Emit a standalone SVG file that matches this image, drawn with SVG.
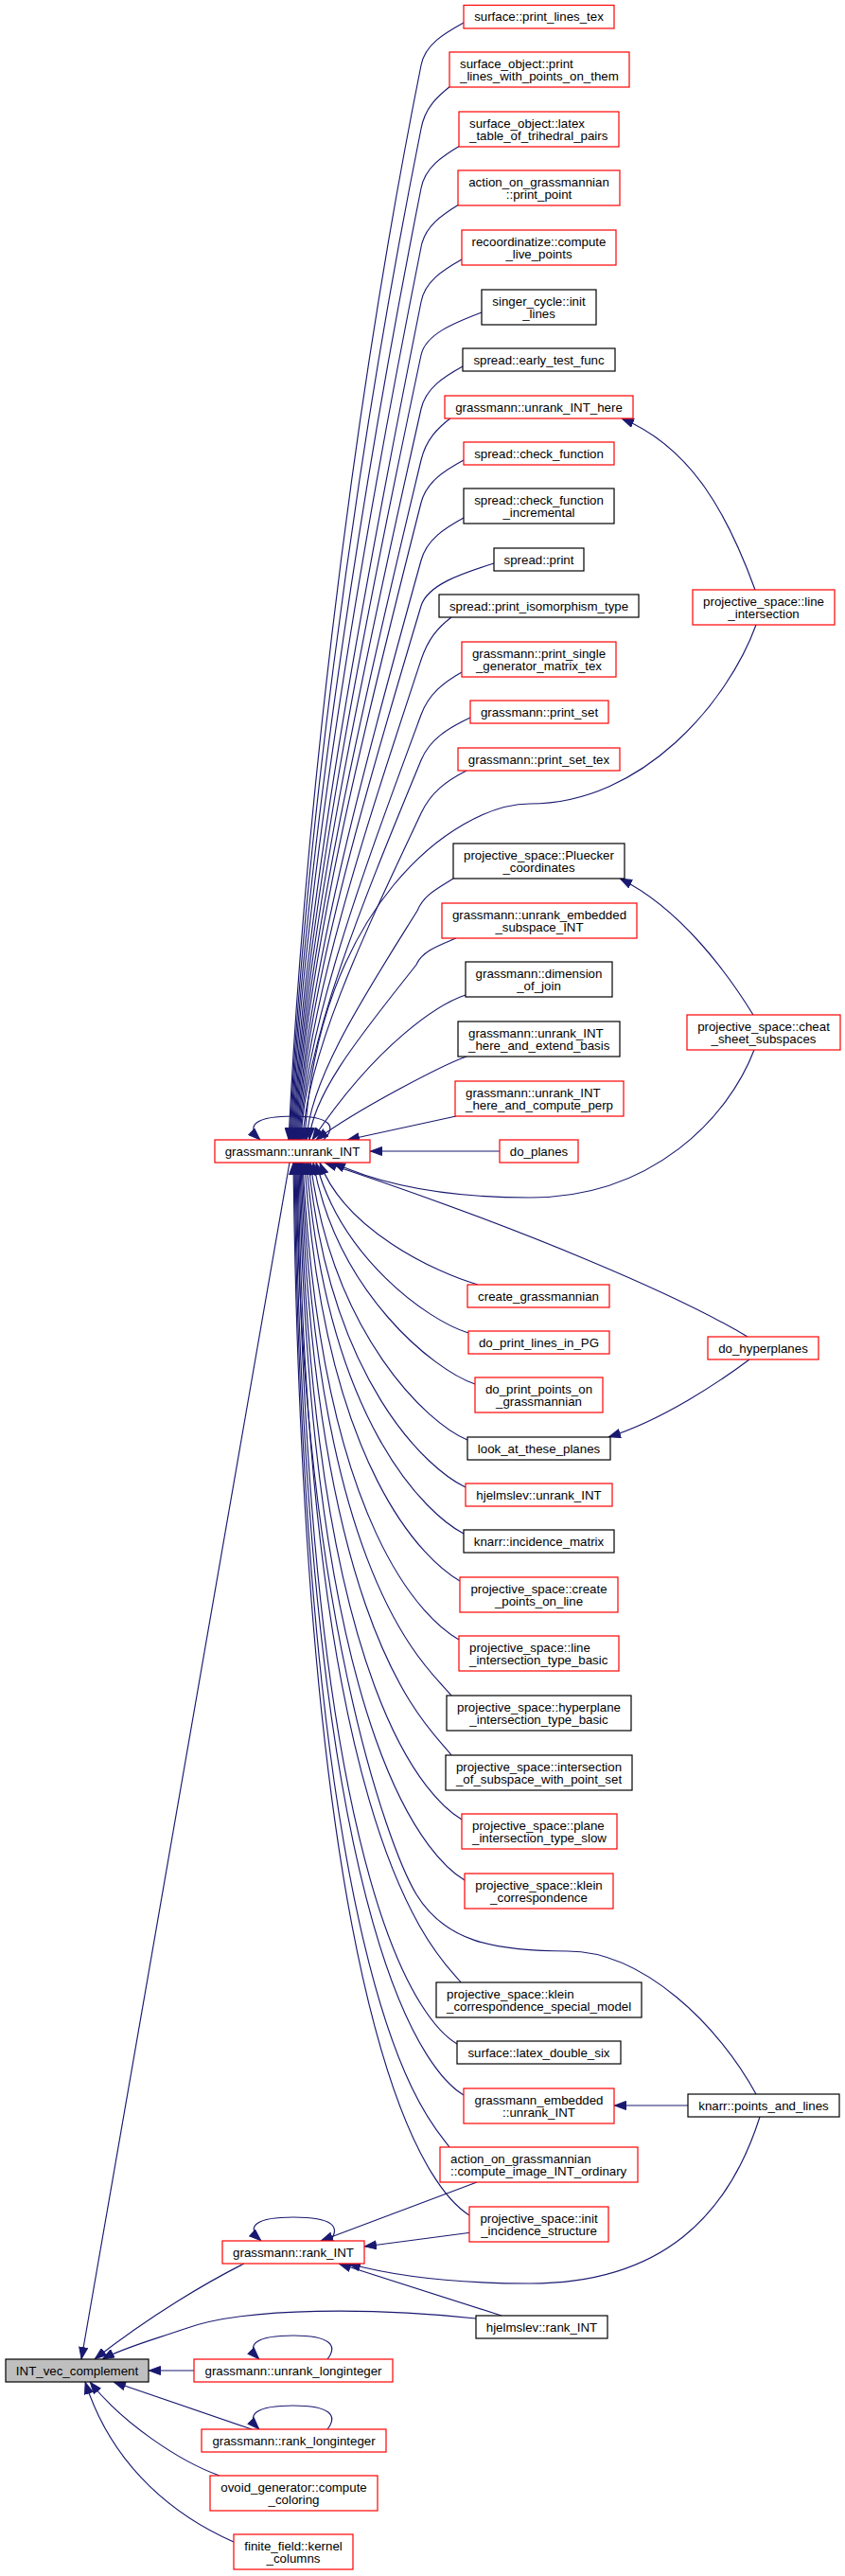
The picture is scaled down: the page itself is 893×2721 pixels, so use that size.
<svg xmlns="http://www.w3.org/2000/svg" width="893" height="2721" viewBox="0 0 893 2721">
<defs>
<marker id="ah" viewBox="0 0 13 10" refX="13" refY="5" markerWidth="13" markerHeight="10" markerUnits="userSpaceOnUse" orient="auto"><path d="M0.5,0.5 L12.5,5 L0.5,9.5 z" fill="#191970" stroke="#191970" stroke-width="1"/></marker>
</defs>
<style>
rect{fill:#fff;stroke-width:1.2}
.r rect{stroke:#ff0000}
.k rect{stroke:#000}
.g rect{fill:#bfbfbf;stroke:#000}
text{font-family:"Liberation Sans",Arial,Helvetica,sans-serif;font-size:13.3px;fill:#000}
.c{text-anchor:middle}
#edges path{fill:none;stroke:#191970;stroke-width:1.15;marker-end:url(#ah)}
</style>
<rect x="0" y="0" width="893" height="2721" style="fill:#fff;stroke:none"/>
<g id="edges">
<path d="M490,24 C470,35 449,47 445,69 C365.5,466 319.8,898 305,1204"/>
<path d="M476,91 C462,102 449,114 445,136 C370,510 320,916 306,1204"/>
<path d="M486,154 C467.5,165 449,177 445,199 C375,551 320,933 307,1204"/>
<path d="M485,216 C467,227 449,239 445,261 C379,591 320,949 308,1204"/>
<path d="M488,274 C468.6,285 449,297 445,319 C383,629 320.5,965 309,1204"/>
<path d="M509,330 C480,341 449.7,353 445,375 C383.5,665 321,980 310,1204"/>
<path d="M489,387 C469,398 450,410 445,432 C384,702 321,996 311,1204"/>
<path d="M477,441 C462.6,452 450.3,464 445,486 C384.5,737 321.3,1010 312,1204"/>
<path d="M490,486 C469.7,497 450.6,509 445,531 C385,766.5 321.7,1022 313,1204"/>
<path d="M490,547 C469.7,558 451,570 445,592 C385.4,806 322,1039 314,1204"/>
<path d="M522,595 C487,606 451.6,618 445,640 C385.8,837 322.3,1052 315,1204"/>
<path d="M477,652 C462.6,663 452.3,675 445,697 C386.4,874.5 322.6,1067 316,1204"/>
<path d="M488,710 C468.6,721 453,733 445,755 C387,912 322.8,1083 317,1204"/>
<path d="M497,758 C473.6,769 454,781 445,803 C387.5,943 323.2,1096 318,1204"/>
<path d="M493,814 C471.4,825 455.3,837 445,859 C388,980 324.5,1111 320,1204"/>
<path d="M479,928 C462,939 448,945 441,962 C388,1047 327.3,1139 324,1204"/>
<path d="M482,991 C463,999 446,1005 440,1019 C389,1084 329.5,1154 327,1204"/>
<path d="M492,1051 C465,1060 400,1100 330,1204"/>
<path d="M493,1116 C470,1124 380,1170 334,1204"/>
<path d="M482,1179 L367,1204"/>
<path d="M798,623 C770,546 732,473 657,442"/>
<path d="M799,660 C770,740 680,849 560,849 C480,849 335,960 322,1204"/>
<path d="M796,1072 C770,1030 720,960 655,928"/>
<path d="M797,1109 C770,1180 690,1265 560,1265 C480,1265 410,1255 352,1228"/>
<path d="M790,1412 C720,1370 560,1300 343,1228"/>
<path d="M792,1436 C760,1460 700,1500 643,1518"/>
<path d="M727,2224 L649,2224"/>
<path d="M799,2212 C760,2140 680,2061 600,2061 C520,2061 470,2050 440,2001 C410,1951 318,1700 313,1228"/>
<path d="M803,2236 C770,2340 700,2412 560,2412 C480,2412 420,2405 368,2391"/>
<path d="M528,1216 L391,1216"/>
<path d="M505,1357 C460,1344 364,1299 338,1228"/>
<path d="M495,1408 C450,1394 360,1327 334,1228"/>
<path d="M502,1462 C458,1447 356,1365 331,1228"/>
<path d="M494,1521 C452,1504 352,1410 328,1228"/>
<path d="M492,1571 C452,1552 349,1460 326,1228"/>
<path d="M490,1620 C452,1600 346,1505 324,1228"/>
<path d="M486,1670 C451,1650 343,1555 322,1228"/>
<path d="M485,1732 C452,1713 340,1620 320,1228"/>
<path d="M477,1791 C457,1765 337,1680 319,1228"/>
<path d="M477,1854 C459,1828 334,1740 318,1228"/>
<path d="M488,1922 C458,1904 331,1800 317,1228"/>
<path d="M491,1986 C461,1968 329,1860 316,1228"/>
<path d="M487,2094 C467,2068 326,1960 315,1228"/>
<path d="M483,2159 C453,2141 325,2025 314,1228"/>
<path d="M490,2213 C460,2195 324,2075 312,1228"/>
<path d="M475,2268 C457,2242 323,2130 311,1228"/>
<path d="M496,2340 C466,2321 322,2200 310,1228"/>
<path d="M530,2446 L358,2391"/>
<path d="M503,2449 C400,2438 260,2436 195,2460 C160,2472 130,2480 108,2492"/>
<path d="M504,2305 L339,2367"/>
<path d="M499,2358 L385,2373"/>
<path d="M258,2391 C220,2410 160,2445 100,2492"/>
<path d="M306,1228 L86,2492"/>
<path d="M205,2504 L157,2504"/>
<path d="M266,2566 L120,2516"/>
<path d="M232,2615 C190,2600 130,2560 95,2516"/>
<path d="M247,2685 C190,2660 120,2610 90,2516"/>
<path d="M342,1204 C356,1190 350,1179 310,1179 C272,1179 258,1188 275,1204"/>
<path d="M349,2367 C360,2352 352,2342 310,2342 C272,2342 258,2351 276,2367"/>
<path d="M346,2492 C357,2478 350,2467 310,2467 C272,2467 258,2476 274,2492"/>
<path d="M346,2566 C357,2552 350,2541 310,2541 C272,2541 258,2550 274,2566"/>
</g>
<g id="n1" class="r"><rect x="490" y="5.5" width="159" height="24.5"/><text class="c" x="569.5" y="22.2">surface::print_lines_tex</text></g>
<g id="n2" class="r"><rect x="475" y="55" width="190" height="37"/><text x="486" y="71.5">surface_object::print</text><text x="486" y="84.8">_lines_with_points_on_them</text></g>
<g id="n3" class="r"><rect x="485" y="118" width="169" height="37"/><text x="496" y="134.5">surface_object::latex</text><text x="496" y="147.8">_table_of_trihedral_pairs</text></g>
<g id="n4" class="r"><rect x="484" y="180" width="171" height="37"/><text class="c" x="569.5" y="196.5">action_on_grassmannian</text><text class="c" x="569.5" y="209.8">::print_point</text></g>
<g id="n5" class="r"><rect x="488" y="243" width="163" height="37"/><text class="c" x="569.5" y="259.5">recoordinatize::compute</text><text class="c" x="569.5" y="272.8">_live_points</text></g>
<g id="n6" class="k"><rect x="509" y="306" width="121" height="37"/><text class="c" x="569.5" y="322.5">singer_cycle::init</text><text class="c" x="569.5" y="335.8">_lines</text></g>
<g id="n7" class="k"><rect x="489" y="368" width="161" height="24"/><text class="c" x="569.5" y="384.6">spread::early_test_func</text></g>
<g id="n8" class="r"><rect x="470" y="418" width="199" height="24"/><text class="c" x="569.5" y="434.6">grassmann::unrank_INT_here</text></g>
<g id="n9" class="r"><rect x="490" y="467" width="159" height="24"/><text class="c" x="569.5" y="483.6">spread::check_function</text></g>
<g id="n10" class="k"><rect x="490" y="516" width="159" height="37"/><text class="c" x="569.5" y="532.5">spread::check_function</text><text class="c" x="569.5" y="545.8">_incremental</text></g>
<g id="n11" class="k"><rect x="522" y="579" width="95" height="24"/><text class="c" x="569.5" y="595.6">spread::print</text></g>
<g id="n12" class="k"><rect x="464" y="628" width="211" height="24"/><text class="c" x="569.5" y="644.6">spread::print_isomorphism_type</text></g>
<g id="n13" class="r"><rect x="488" y="678" width="163" height="37"/><text class="c" x="569.5" y="694.5">grassmann::print_single</text><text class="c" x="569.5" y="707.8">_generator_matrix_tex</text></g>
<g id="n14" class="r"><rect x="497" y="740" width="146" height="24"/><text class="c" x="570" y="756.6">grassmann::print_set</text></g>
<g id="n15" class="r"><rect x="484" y="790" width="171" height="24"/><text class="c" x="569.5" y="806.6">grassmann::print_set_tex</text></g>
<g id="n16" class="k"><rect x="479" y="891" width="181" height="37"/><text class="c" x="569.5" y="907.5">projective_space::Pluecker</text><text class="c" x="569.5" y="920.8">_coordinates</text></g>
<g id="n17" class="r"><rect x="467" y="954" width="206" height="37"/><text class="c" x="570" y="970.5">grassmann::unrank_embedded</text><text class="c" x="570" y="983.8">_subspace_INT</text></g>
<g id="n18" class="k"><rect x="492" y="1016" width="155" height="37"/><text class="c" x="569.5" y="1032.5">grassmann::dimension</text><text class="c" x="569.5" y="1045.8">_of_join</text></g>
<g id="n19" class="k"><rect x="484" y="1079" width="171" height="37"/><text x="495" y="1095.5">grassmann::unrank_INT</text><text x="495" y="1108.8">_here_and_extend_basis</text></g>
<g id="n20" class="r"><rect x="481" y="1142" width="178" height="37"/><text x="492" y="1158.5">grassmann::unrank_INT</text><text x="492" y="1171.8">_here_and_compute_perp</text></g>
<g id="n21" class="r"><rect x="528" y="1204" width="83" height="24"/><text class="c" x="569.5" y="1220.6">do_planes</text></g>
<g id="n22" class="r"><rect x="494" y="1357" width="150" height="24"/><text class="c" x="569" y="1373.6">create_grassmannian</text></g>
<g id="n23" class="r"><rect x="495" y="1406" width="149" height="24"/><text class="c" x="569.5" y="1422.6">do_print_lines_in_PG</text></g>
<g id="n24" class="r"><rect x="502" y="1455" width="135" height="37"/><text class="c" x="569.5" y="1471.5">do_print_points_on</text><text class="c" x="569.5" y="1484.8">_grassmannian</text></g>
<g id="n25" class="k"><rect x="494" y="1518" width="151" height="24"/><text class="c" x="569.5" y="1534.6">look_at_these_planes</text></g>
<g id="n26" class="r"><rect x="492" y="1567" width="155" height="24"/><text class="c" x="569.5" y="1583.6">hjelmslev::unrank_INT</text></g>
<g id="n27" class="k"><rect x="490" y="1616" width="159" height="24"/><text class="c" x="569.5" y="1632.6">knarr::incidence_matrix</text></g>
<g id="n28" class="r"><rect x="486" y="1666" width="167" height="37"/><text class="c" x="569.5" y="1682.5">projective_space::create</text><text class="c" x="569.5" y="1695.8">_points_on_line</text></g>
<g id="n29" class="r"><rect x="485" y="1728" width="169" height="37"/><text x="496" y="1744.5">projective_space::line</text><text x="496" y="1757.8">_intersection_type_basic</text></g>
<g id="n30" class="k"><rect x="472" y="1791" width="195" height="37"/><text class="c" x="569.5" y="1807.5">projective_space::hyperplane</text><text class="c" x="569.5" y="1820.8">_intersection_type_basic</text></g>
<g id="n31" class="k"><rect x="471" y="1854" width="197" height="37"/><text class="c" x="569.5" y="1870.5">projective_space::intersection</text><text class="c" x="569.5" y="1883.8">_of_subspace_with_point_set</text></g>
<g id="n32" class="r"><rect x="488" y="1916" width="164" height="37"/><text x="499" y="1932.5">projective_space::plane</text><text x="499" y="1945.8">_intersection_type_slow</text></g>
<g id="n33" class="r"><rect x="491" y="1979" width="157" height="37"/><text class="c" x="569.5" y="1995.5">projective_space::klein</text><text class="c" x="569.5" y="2008.8">_correspondence</text></g>
<g id="n34" class="k"><rect x="461" y="2094" width="217" height="37"/><text x="472" y="2110.5">projective_space::klein</text><text x="472" y="2123.8">_correspondence_special_model</text></g>
<g id="n35" class="k"><rect x="483" y="2156" width="173" height="24"/><text class="c" x="569.5" y="2172.6">surface::latex_double_six</text></g>
<g id="n36" class="r"><rect x="490" y="2206" width="159" height="37"/><text class="c" x="569.5" y="2222.5">grassmann_embedded</text><text class="c" x="569.5" y="2235.8">::unrank_INT</text></g>
<g id="n37" class="r"><rect x="465" y="2268" width="209" height="37"/><text x="476" y="2284.5">action_on_grassmannian</text><text x="476" y="2297.8">::compute_image_INT_ordinary</text></g>
<g id="n38" class="r"><rect x="496" y="2331" width="147" height="37"/><text class="c" x="569.5" y="2347.5">projective_space::init</text><text class="c" x="569.5" y="2360.8">_incidence_structure</text></g>
<g id="n39" class="k"><rect x="503" y="2446" width="139" height="24"/><text class="c" x="572.5" y="2462.6">hjelmslev::rank_INT</text></g>
<g id="r1" class="r"><rect x="732" y="623" width="150" height="37"/><text class="c" x="807" y="639.5">projective_space::line</text><text class="c" x="807" y="652.8">_intersection</text></g>
<g id="r2" class="r"><rect x="726" y="1072" width="162" height="37"/><text class="c" x="807" y="1088.5">projective_space::cheat</text><text class="c" x="807" y="1101.8">_sheet_subspaces</text></g>
<g id="r3" class="r"><rect x="748" y="1412" width="117" height="24"/><text class="c" x="806.5" y="1428.6">do_hyperplanes</text></g>
<g id="r4" class="k"><rect x="727" y="2212" width="160" height="24"/><text class="c" x="807" y="2228.6">knarr::points_and_lines</text></g>
<g id="unrank_INT" class="r"><rect x="227" y="1204" width="164" height="24"/><text class="c" x="309" y="1220.6">grassmann::unrank_INT</text></g>
<g id="rank_INT" class="r"><rect x="235" y="2367" width="150" height="24"/><text class="c" x="310" y="2383.6">grassmann::rank_INT</text></g>
<g id="INT_vec_complement" class="g"><rect x="6" y="2492" width="151" height="24"/><text class="c" x="81.5" y="2508.6">INT_vec_complement</text></g>
<g id="unrank_longinteger" class="r"><rect x="205" y="2492" width="210" height="24"/><text class="c" x="310" y="2508.6">grassmann::unrank_longinteger</text></g>
<g id="rank_longinteger" class="r"><rect x="213" y="2566" width="195" height="24"/><text class="c" x="310.5" y="2582.6">grassmann::rank_longinteger</text></g>
<g id="ovoid" class="r"><rect x="222" y="2615" width="177" height="37"/><text class="c" x="310.5" y="2631.5">ovoid_generator::compute</text><text class="c" x="310.5" y="2644.8">_coloring</text></g>
<g id="kernel" class="r"><rect x="247" y="2677" width="126" height="37"/><text class="c" x="310" y="2693.5">finite_field::kernel</text><text class="c" x="310" y="2706.8">_columns</text></g>
</svg>
